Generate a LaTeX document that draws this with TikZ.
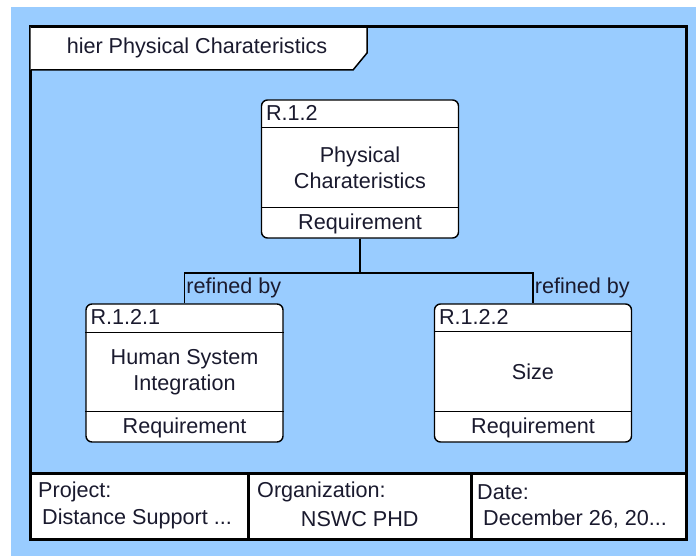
\documentclass[tikz,border=0pt]{standalone}
\usepackage{fontspec}
\setmainfont{Liberation Sans}
\definecolor{diagblue}{HTML}{99CCFF}
\definecolor{inkdark}{HTML}{1A1A2E}

\begin{document}
\begin{tikzpicture}[x=1pt, y=-1pt,
    req/.style={rectangle, draw, line width=1.4pt, rounded corners=6pt, fill=white, minimum width=197pt, minimum height=138pt},
    sep/.style={line width=1.4pt},
    txt/.style={font=\fontsize{21.6}{25.5}\selectfont, text=inkdark, inner sep=1pt, align=center},
    link/.style={line width=1.8pt},
    frm/.style={line width=3pt}
]
    \useasboundingbox (0,0) rectangle (696,556);
    \fill[diagblue] (11,7) rectangle (696,556);

    % Frame and title tab
    \draw[frm] (30.5,27) rectangle (686,539.5);
    \draw[line width=1.5pt, fill=white] (30.5,27) -- (367,27) -- (367,53) -- (353,70) -- (30.5,70);
    \draw[frm] (30.5,27) -- (367,27);
    \node[txt] (title) at (197,48) {hier Physical Charateristics};

    % Requirements
    \node[req] (r12) at (360,169) {};
    \node[req] (r121) at (184.5,373) {};
    \node[req] (r122) at (533,373) {};

    \draw[sep] ([yshift=-28pt]r12.north west) -- ([yshift=-28pt]r12.north east);
    \draw[sep] ([yshift=31pt]r12.south west) -- ([yshift=31pt]r12.south east);
    \draw[sep] ([yshift=-29pt]r121.north west) -- ([yshift=-29pt]r121.north east);
    \draw[sep] ([yshift=31pt]r121.south west) -- ([yshift=31pt]r121.south east);
    \draw[sep] ([yshift=-28pt]r122.north west) -- ([yshift=-28pt]r122.north east);
    \draw[sep] ([yshift=31pt]r122.south west) -- ([yshift=31pt]r122.south east);

    \node[txt, anchor=west] (r12id) at ([xshift=4pt, yshift=-14pt]r12.north west) {R.1.2};
    \node[txt] (r12name) at (360,168) {Physical\\Charateristics};
    \node[txt] (r12kind) at ([yshift=15pt]r12.south) {Requirement};

    \node[txt, anchor=west] (r121id) at ([xshift=4pt, yshift=-14pt]r121.north west) {R.1.2.1};
    \node[txt] (r121name) at (184.5,372) {Human System\\Integration};
    \node[txt] (r121kind) at ([yshift=15pt]r121.south) {Requirement};

    \node[txt, anchor=west] (r122id) at ([xshift=4pt, yshift=-14pt]r122.north west) {R.1.2.2};
    \node[txt] (r122name) at (533,372) {Size};
    \node[txt] (r122kind) at ([yshift=15pt]r122.south) {Requirement};

    % Refinements
    \draw[link] (r12.south) -- ++(0,34) -| (r121.north) node[txt, anchor=south west, yshift=3pt] (lbl1) {refined by};
    \draw[link] (r12.south) -- ++(0,34) -| (r122.north) node[txt, anchor=south west, yshift=3pt] (lbl2) {refined by};

    % Footer
    \draw[frm, fill=white] (30.5,473.5) rectangle (686,539.5);
    \draw[frm] (248.5,473.5) -- (248.5,539.5);
    \draw[frm] (471,473.5) -- (471,539.5);
    \node[txt, anchor=west] (proj) at (37,492) {Project:};
    \node[txt, anchor=west] (projval) at (41,519) {Distance Support ...};
    \node[txt, anchor=west] (org) at (256,492) {Organization:};
    \node[txt] (orgval) at (359.75,519) {NSWC PHD};
    \node[txt, anchor=west] (date) at (476,492) {Date:};
    \node[txt, anchor=west] (dateval) at (482,519) {December 26, 20...};

\end{tikzpicture}
\end{document}
